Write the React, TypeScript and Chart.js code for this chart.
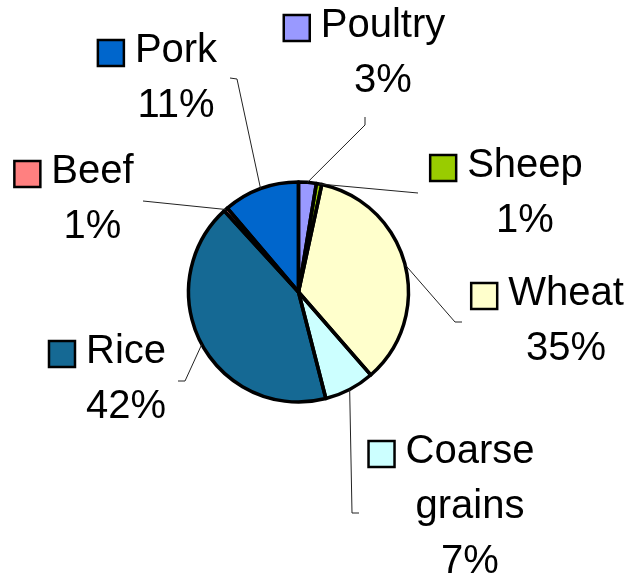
import React, { useEffect, useRef } from "react";
import { Chart, registerables } from "chart.js";

Chart.register(...registerables);

const categories = ["Poultry", "Sheep", "Wheat", "Coarse grains", "Rice", "Beef", "Pork"];
const shares = [2.6, 0.8, 35.2, 7.4, 42.2, 0.6, 11.2];
const sliceColors = ["#9999FF", "#99CC00", "#FFFFCC", "#CCFFFF", "#156994", "#FF8080", "#0066CC"];
const labelLines = [["Poultry"], ["Sheep"], ["Wheat"], ["Coarse", "grains"], ["Rice"], ["Beef"], ["Pork"]];

// label layout, offsets relative to the pie centre
const labelLayout = [
  { tx: 84.5, ty: -255, elbow: [[66.5, -167], [66.5, -175]] },
  { tx: 226.5, ty: -115, elbow: [[119.5, -99]] },
  { tx: 267.5, ty: 13, elbow: [[156.5, 30], [163.5, 30]] },
  { tx: 171.5, ty: 171, elbow: [[53.5, 221], [60.5, 221]] },
  { tx: -172.5, ty: 71, elbow: [[-113.5, 89], [-120.5, 89]] },
  { tx: -206, ty: -109, elbow: [[-155.5, -91]] },
  { tx: -122.5, ty: -230, elbow: [[-61.5, -213], [-68.5, -214]] },
];

const FONT = "40px 'Liberation Sans', Arial, sans-serif";
const LINE_H = 55;

const outlinePlugin = {
  id: "sliceOutline",
  afterDatasetsDraw(chart: any) {
    const ctx = chart.ctx;
    const meta = chart.getDatasetMeta(0);
    ctx.save();
    ctx.strokeStyle = "#000";
    ctx.lineWidth = 3.5;
    ctx.lineJoin = "round";
    meta.data.forEach((arc: any) => {
      const { x, y, startAngle, endAngle, outerRadius } = arc.getProps(
        ["x", "y", "startAngle", "endAngle", "outerRadius"],
        true
      );
      ctx.beginPath();
      ctx.moveTo(x, y);
      ctx.arc(x, y, outerRadius, startAngle, endAngle);
      ctx.closePath();
      ctx.stroke();
    });
    ctx.restore();
  },
};

const labelPlugin = {
  id: "pieLabels",
  afterDraw(chart: any) {
    const ctx = chart.ctx;
    const meta = chart.getDatasetMeta(0);
    ctx.save();
    meta.data.forEach((arc: any, i: number) => {
      const { x, y, startAngle, endAngle, outerRadius } = arc.getProps(
        ["x", "y", "startAngle", "endAngle", "outerRadius"],
        true
      );
      const mid = (startAngle + endAngle) / 2;
      const lay = labelLayout[i];
      // leader line
      ctx.beginPath();
      ctx.strokeStyle = "#222";
      ctx.lineWidth = 1;
      ctx.moveTo(x + Math.cos(mid) * outerRadius, y + Math.sin(mid) * outerRadius);
      lay.elbow.forEach((p) => ctx.lineTo(x + p[0], y + p[1]));
      ctx.stroke();
      // text
      const lines = [...labelLines[i], Math.round(shares[i]) + "%"];
      ctx.font = FONT;
      ctx.fillStyle = "#000";
      ctx.textAlign = "center";
      ctx.textBaseline = "alphabetic";
      const cx = x + lay.tx;
      const by = y + lay.ty;
      lines.forEach((t, k) => ctx.fillText(t, cx, by + k * LINE_H));
      // legend key
      const w0 = ctx.measureText(lines[0]).width;
      const left = cx - w0 / 2;
      const size = 26;
      const kx = left - 11 - size;
      const ky = by - 22;
      ctx.fillStyle = sliceColors[i];
      ctx.fillRect(kx, ky, size, size);
      ctx.lineWidth = 2.5;
      ctx.strokeStyle = "#000";
      ctx.strokeRect(kx, ky, size, size);
    });
    ctx.restore();
  },
};

export default function App() {
  const ref = useRef<HTMLCanvasElement | null>(null);
  useEffect(() => {
    if (!ref.current) return;
    const chart = new Chart(ref.current, {
      type: "pie",
      data: {
        labels: categories,
        datasets: [
          {
            data: shares,
            backgroundColor: sliceColors,
            borderColor: "#000",
            borderWidth: 0,
          },
        ],
      },
      options: {
        responsive: false,
        animation: false,
        radius: 110,
        layout: { padding: { left: 0, right: 36, top: 1, bottom: 0 } },
        plugins: { legend: { display: false }, tooltip: { enabled: false } },
      } as any,
      plugins: [outlinePlugin, labelPlugin],
    });
    return () => chart.destroy();
  }, []);
  return (
    <div style={{ position: "absolute", left: 0, top: 0, width: 633, height: 583, background: "#fff" }}>
      <canvas ref={ref} width={633} height={583} />
    </div>
  );
}
